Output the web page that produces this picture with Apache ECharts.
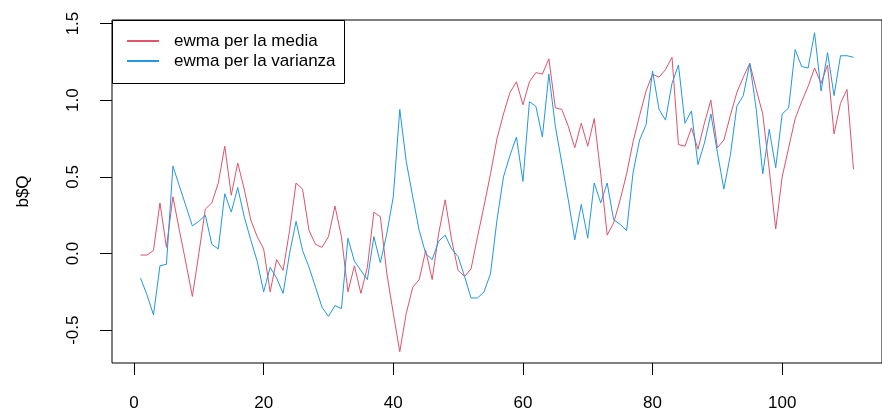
<!DOCTYPE html>
<html><head><meta charset="utf-8">
<script src="https://cdn.jsdelivr.net/npm/echarts@6/dist/echarts.min.js"></script>
<style>html,body{margin:0;padding:0;background:#fff}#c{width:882px;height:417px}</style>
</head><body><div id="c"></div>
<script>
const seriesNames = ['ewma per la media', 'ewma per la varianza'];
const ewmaMedia = [
 -0.01,-0.01,0.02,0.33,0.04,0.37,0.15,-0.06,-0.28,0.00,
 0.29,0.33,0.46,0.70,0.38,0.59,0.42,0.22,0.11,0.03,
 -0.25,-0.04,-0.11,0.15,0.46,0.42,0.15,0.06,0.04,0.11,
 0.31,0.11,-0.25,-0.08,-0.26,-0.09,0.27,0.24,-0.13,-0.39,
 -0.64,-0.39,-0.22,-0.17,0.02,-0.17,0.13,0.35,0.09,-0.11,
 -0.15,-0.10,0.11,0.31,0.52,0.75,0.91,1.05,1.12,0.97,
 1.12,1.18,1.17,1.27,0.95,0.94,0.83,0.69,0.85,0.70,
 0.88,0.52,0.12,0.20,0.35,0.52,0.73,0.90,1.06,1.17,
 1.15,1.20,1.28,0.71,0.70,0.82,0.68,0.85,1.00,0.69,
 0.74,0.90,1.05,1.15,1.24,1.07,0.91,0.55,0.16,0.50,
 0.69,0.88,0.99,1.09,1.21,1.11,1.23,0.78,0.98,1.07,
 0.55
];
const ewmaVarianza = [
 -0.16,-0.27,-0.40,-0.08,-0.07,0.57,0.44,0.31,0.18,0.21,
 0.25,0.06,0.03,0.39,0.27,0.43,0.24,0.09,-0.05,-0.25,
 -0.09,-0.16,-0.26,0.00,0.21,0.02,-0.09,-0.22,-0.35,-0.41,
 -0.34,-0.36,0.10,-0.05,-0.11,-0.17,0.11,-0.06,0.13,0.37,
 0.94,0.60,0.37,0.15,0.00,-0.04,0.08,0.12,0.03,-0.02,
 -0.15,-0.29,-0.29,-0.25,-0.13,0.22,0.50,0.64,0.76,0.47,
 0.99,0.96,0.76,1.17,0.83,0.59,0.35,0.09,0.32,0.10,
 0.46,0.33,0.46,0.22,0.19,0.15,0.53,0.74,0.84,1.19,
 0.94,0.87,1.11,1.23,0.85,0.93,0.58,0.72,0.91,0.66,
 0.42,0.64,0.96,1.03,1.24,0.94,0.52,0.81,0.56,0.91,
 0.95,1.33,1.22,1.21,1.44,1.06,1.31,1.03,1.29,1.29,
 1.28
];
const xTicks = [0, 20, 40, 60, 80, 100];
const yTicks = [-0.5, 0, 0.5, 1, 1.5];
const yLabel = 'b$Q';

const toPairs = arr => arr.map((v, i) => [i + 1, v]);
const FONT = 'Liberation Sans, Arial, sans-serif';

const chart = echarts.init(document.getElementById('c'), null, {renderer: 'canvas'});
chart.setOption({
  animation: false,
  backgroundColor: '#fff',
  grid: {left: 112, top: 20, width: 782, height: 343, show: true, borderColor: '#000', borderWidth: 1, backgroundColor: 'transparent'},
  xAxis: {
    type: 'value', min: -3.4, max: 115.4,
    axisLine: {show: false, onZero: false},
    splitLine: {show: false},
    axisTick: {show: true, length: 12, customValues: xTicks, lineStyle: {color: '#000', width: 1}},
    axisLabel: {customValues: xTicks, margin: 32, fontSize: 17, color: '#000', fontFamily: FONT}
  },
  yAxis: {
    type: 'value', min: -0.714, max: 1.523,
    name: yLabel, nameLocation: 'middle', nameGap: 80, nameRotate: 90,
    nameTextStyle: {fontSize: 17, color: '#000', fontFamily: FONT},
    axisLine: {show: false, onZero: false},
    splitLine: {show: false},
    axisTick: {show: true, length: 12, customValues: yTicks, lineStyle: {color: '#000', width: 1}},
    axisLabel: {customValues: yTicks, rotate: 90, margin: 30, fontSize: 17, color: '#000', fontFamily: FONT,
      formatter: v => Number(v).toFixed(1)}
  },
  legend: {
    orient: 'vertical', left: 127, top: 31, padding: 0, itemGap: 0,
    itemWidth: 32, itemHeight: 2,
    icon: 'path://M0,0 L32,0 L32,2 L0,2 Z',
    textStyle: {fontSize: 17, color: '#000', fontFamily: FONT, lineHeight: 20, padding: [0, 0, 0, 10]},
    data: seriesNames,
    z: 10
  },
  graphic: [{
    type: 'rect', z: 5, silent: true,
    shape: {x: 112.5, y: 20.5, width: 232, height: 63},
    style: {fill: '#fff', stroke: '#000', lineWidth: 1}
  }],
  series: [
    {name: seriesNames[0], type: 'line', data: toPairs(ewmaMedia), symbol: 'none', color: '#DF536B',
     lineStyle: {width: 1, color: '#DF536B'}},
    {name: seriesNames[1], type: 'line', data: toPairs(ewmaVarianza), symbol: 'none', color: '#2297E6',
     lineStyle: {width: 1, color: '#2297E6'}}
  ]
});
</script></body></html>
